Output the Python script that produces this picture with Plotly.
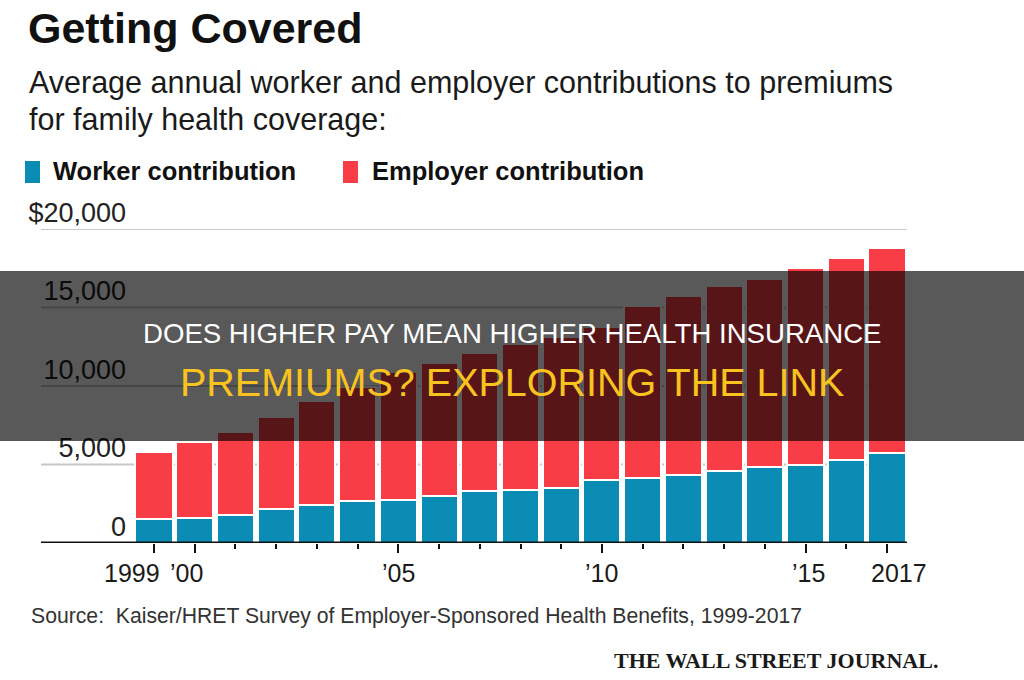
import plotly.graph_objects as go

# ---------------- data ----------------
years = list(range(1999, 2018))
worker = [1543, 1619, 1787, 2137, 2412, 2661, 2713, 2973, 3281, 3354,
          3515, 3997, 4129, 4316, 4565, 4823, 4955, 5277, 5714]
employer = [4247, 4819, 5273, 5866, 6657, 7289, 8167, 8508, 8824, 9325,
            9600, 9773, 10944, 11429, 11786, 12011, 12591, 12865, 13049]

y_tickvals = [0, 5000, 10000, 15000, 20000]
y_ticktext = ["0", "5,000", "10,000", "15,000", "$20,000"]

x_major = [1999, 2000, 2005, 2010, 2015, 2017]
x_labels = ["1999", "\u201900", "\u201905", "\u201910", "\u201915", "2017"]
x_label_shift = [-22, -8, 0, 0, 3, 12]

title = "Getting Covered"
subtitle1 = "Average annual worker and employer contributions to premiums"
subtitle2 = "for family health coverage:"
legend_names = ["Worker contribution", "Employer contribution"]
source = "Source:  Kaiser/HRET Survey of Employer-Sponsored Health Benefits, 1999-2017"
brand = "THE WALL STREET JOURNAL."
overlay1 = "DOES HIGHER PAY MEAN HIGHER HEALTH INSURANCE"
overlay2 = "PREMIUMS? EXPLORING THE LINK"

# ---------------- style ----------------
BLUE = "#0a8cb4"
RED = "#f93d46"
FONT = "Liberation Sans, Arial, sans-serif"
SERIF = "Liberation Serif, Times New Roman, serif"

W, H = 1024, 680
L, R, T, B = 130, 907, 229, 543  # plot area in pixels


def px_x(p):
    return (p - L) / (R - L)


def px_y(p):
    return (B - p) / (B - T)


fig = go.Figure()
fig.add_trace(go.Bar(x=years, y=worker, name=legend_names[0],
                     marker=dict(color=BLUE, line=dict(color="white", width=2))))
fig.add_trace(go.Bar(x=years, y=employer, name=legend_names[1],
                     marker=dict(color=RED, line=dict(color="white", width=2))))

shapes = []
# gridlines (extend left under the labels)
for v in y_tickvals[1:]:
    shapes.append(dict(type="line", xref="paper", yref="y", x0=px_x(41), x1=1,
                       y0=v, y1=v, line=dict(color="#c8c8c8", width=2), layer="below"))
# baseline
shapes.append(dict(type="line", xref="paper", yref="y", x0=px_x(41), x1=1,
                   y0=0, y1=0, line=dict(color="#111111", width=3), layer="above"))
# legend swatches
shapes.append(dict(type="rect", xref="paper", yref="paper", x0=px_x(25), x1=px_x(40),
                   y0=px_y(183), y1=px_y(161), fillcolor=BLUE, line=dict(width=0)))
shapes.append(dict(type="rect", xref="paper", yref="paper", x0=px_x(343), x1=px_x(358),
                   y0=px_y(183), y1=px_y(161), fillcolor=RED, line=dict(width=0)))
# dark overlay band
shapes.append(dict(type="rect", xref="paper", yref="paper", x0=px_x(0), x1=px_x(W),
                   y0=px_y(441), y1=px_y(271), fillcolor="rgba(0,0,0,0.65)",
                   line=dict(width=0), layer="above"))

ann = []


def text(t, x, y, size, color="#111111", family=FONT, weight="normal",
         xanchor="left", xref="paper", xshift=0):
    ann.append(dict(text=t, x=x, y=y, xref=xref, yref="paper", xanchor=xanchor,
                    yanchor="middle", showarrow=False, xshift=xshift,
                    font=dict(size=size, color=color, family=family, weight=weight)))


text(title, px_x(26), px_y(42.5 - 0.3465 * 43), 43, weight="bold")
text(subtitle1, px_x(27), px_y(93 - 0.3465 * 30.5), 30.5, color="#1a1a1a")
text(subtitle2, px_x(27), px_y(130 - 0.3465 * 30.5), 30.5, color="#1a1a1a")
text(legend_names[0], px_x(51), px_y(180 - 0.3465 * 25.5), 25.5, weight="bold")
text(legend_names[1], px_x(370), px_y(180 - 0.3465 * 25.5), 25.5, weight="bold")
for yr, lab, sh in zip(x_major, x_labels, x_label_shift):
    text(lab, yr, px_y(581.7 - 0.3465 * 25), 25, color="#1a1a1a",
         xanchor="center", xref="x", xshift=sh)
text(source, px_x(29), px_y(623.3 - 0.3465 * 21.2), 21.2, color="#333333")
text(brand, px_x(776), px_y(668.3 - 0.3375 * 22), 22, color="#1a1a1a",
     family=SERIF, weight="bold", xanchor="center")
text(overlay1, px_x(512), px_y(342.7 - 0.3465 * 27.6), 27.6, color="#ffffff",
     xanchor="center")
text(overlay2, px_x(512), px_y(395.7 - 0.3465 * 39.5), 39.5, color="#f9c31f",
     xanchor="center")

fig.update_layout(
    width=W, height=H,
    margin=dict(l=L, r=W - R, t=T, b=H - B, pad=0),
    paper_bgcolor="white", plot_bgcolor="white",
    barmode="stack", bargap=0.09,
    showlegend=False,
    shapes=shapes, annotations=ann,
    font=dict(family=FONT),
    xaxis=dict(range=[1998.411, 2017.491], showgrid=False, zeroline=False,
               showline=False, tickmode="array", tickvals=x_major,
               showticklabels=False, ticks="outside", ticklen=9, tickwidth=2,
               tickcolor="#111111",
               minor=dict(tickmode="array", tickvals=years, ticks="outside",
                          ticklen=5, tickwidth=2, tickcolor="#111111")),
    yaxis=dict(range=[0, 20000], showgrid=False, zeroline=False, showline=False,
               tickmode="array", tickvals=y_tickvals, ticktext=y_ticktext,
               ticks="", ticklabelposition="outside top",
               ticklabelstandoff=3, ticklabelshift=2,
               tickfont=dict(size=27, color="#222222", family=FONT)),
)

fig.write_html("out.html", config={"displayModeBar": False})
